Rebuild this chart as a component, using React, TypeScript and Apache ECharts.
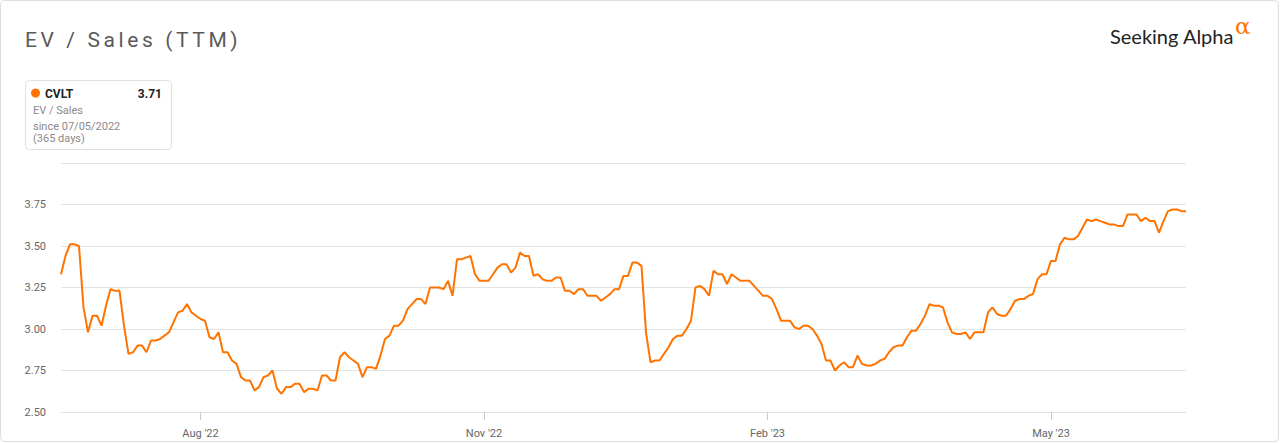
import React, { useEffect, useRef } from "react";
import * as echarts from "echarts";

const TITLE = "EV / Sales (TTM)";
const TICKER = "CVLT";
const LAST_VALUE = "3.71";
const LEGEND_LINES = ["EV / Sales", "since 07/05/2022", "(365 days)"];

// EV / Sales (TTM), one value per trading day
const values: number[] = [
  3.33, 3.44, 3.51, 3.51, 3.5, 3.13, 2.98, 3.08, 3.08, 3.02,
  3.14, 3.24, 3.23, 3.23, 3.02, 2.85, 2.86, 2.9, 2.9, 2.86,
  2.93, 2.93, 2.94, 2.96, 2.98, 3.04, 3.1, 3.11, 3.15, 3.1,
  3.08, 3.06, 3.05, 2.95, 2.94, 2.98, 2.86, 2.86, 2.81, 2.79,
  2.71, 2.69, 2.69, 2.63, 2.65, 2.71, 2.72, 2.75, 2.64, 2.61,
  2.65, 2.65, 2.67, 2.67, 2.62, 2.64, 2.64, 2.63, 2.72, 2.72,
  2.69, 2.69, 2.83, 2.86, 2.83, 2.81, 2.79, 2.71, 2.77, 2.77,
  2.76, 2.84, 2.94, 2.96, 3.02, 3.02, 3.05, 3.12, 3.15, 3.18,
  3.18, 3.15, 3.25, 3.25, 3.25, 3.24, 3.29, 3.2, 3.42, 3.42,
  3.43, 3.44, 3.33, 3.29, 3.29, 3.29, 3.33, 3.37, 3.39, 3.39,
  3.34, 3.37, 3.46, 3.44, 3.44, 3.32, 3.33, 3.3, 3.29, 3.29,
  3.31, 3.31, 3.23, 3.23, 3.21, 3.24, 3.24, 3.2, 3.2, 3.2,
  3.17, 3.19, 3.21, 3.24, 3.24, 3.32, 3.32, 3.4, 3.4, 3.38,
  2.98, 2.8, 2.81, 2.81, 2.85, 2.89, 2.94, 2.96, 2.96, 3.0,
  3.05, 3.25, 3.26, 3.24, 3.2, 3.35, 3.33, 3.33, 3.27, 3.33,
  3.31, 3.29, 3.29, 3.29, 3.26, 3.23, 3.2, 3.2, 3.18, 3.12,
  3.05, 3.05, 3.05, 3.01, 3.0, 3.02, 3.02, 3.0, 2.96, 2.91,
  2.81, 2.81, 2.75, 2.78, 2.8, 2.77, 2.77, 2.84, 2.79, 2.78,
  2.78, 2.79, 2.81, 2.82, 2.86, 2.89, 2.9, 2.9, 2.95, 2.99,
  2.99, 3.03, 3.08, 3.15, 3.14, 3.14, 3.13, 3.04, 2.98, 2.97,
  2.97, 2.98, 2.94, 2.98, 2.98, 2.98, 3.1, 3.13, 3.09, 3.08,
  3.08, 3.12, 3.17, 3.18, 3.18, 3.2, 3.21, 3.3, 3.33, 3.33,
  3.41, 3.41, 3.51, 3.55, 3.54, 3.54, 3.56, 3.61, 3.66, 3.65,
  3.66, 3.65, 3.64, 3.63, 3.63, 3.62, 3.62, 3.69, 3.69, 3.69,
  3.65, 3.67, 3.65, 3.65, 3.58, 3.65, 3.71, 3.72, 3.72, 3.71, 3.71,
];

// x-axis tick labels and the trading-day index where each sits
const tickLabels = ["Aug '22", "Nov '22", "Feb '23", "May '23"];
const tickIndices = [31, 94, 157, 220];

const categories = values.map((_, i) => String(i));

export default function App() {
  const ref = useRef<HTMLDivElement>(null);

  useEffect(() => {
    if (!ref.current) return;
    document.body.style.margin = "0";
    const chart = echarts.init(ref.current, undefined, { renderer: "svg" });
    const font = "Roboto, 'Noto Sans', sans-serif";
    const isTick = (idx: number) => tickIndices.indexOf(idx) >= 0;

    chart.setOption({
      animation: false,
      backgroundColor: "#ffffff",
      grid: { left: 61, right: 94, top: 163, bottom: 31, containLabel: false },
      xAxis: {
        type: "category",
        data: categories,
        boundaryGap: false,
        axisLine: { show: true, lineStyle: { color: "#e2e2e2", width: 1 } },
        axisTick: {
          show: true,
          interval: (idx: number) => isTick(idx),
          length: 8,
          lineStyle: { color: "#cccccc" },
        },
        axisLabel: {
          interval: (idx: number) => isTick(idx),
          formatter: (_v: string, idx: number) => {
            const k = tickIndices.indexOf(idx);
            return k >= 0 ? tickLabels[k] : "";
          },
          color: "#666666",
          fontSize: 11,
          fontFamily: font,
          margin: 16,
        },
        splitLine: { show: false },
      },
      yAxis: {
        type: "value",
        min: 2.5,
        max: 4.0,
        interval: 0.25,
        axisLine: { show: false },
        axisTick: { show: false },
        axisLabel: {
          showMaxLabel: false,
          formatter: (v: number) => v.toFixed(2),
          color: "#666666",
          fontSize: 11,
          fontFamily: font,
          margin: 15,
        },
        splitLine: { show: true, lineStyle: { color: "#e3e3e3", width: 1 } },
      },
      series: [
        {
          type: "line",
          data: values,
          showSymbol: false,
          symbol: "none",
          lineStyle: { color: "#ff7300", width: 2 },
          itemStyle: { color: "#ff7300" },
        },
      ],
      graphic: [
        {
          type: "rect",
          shape: { x: 0.5, y: 0.5, width: 1278, height: 441, r: 4 },
          style: { fill: "none", stroke: "#dedede", lineWidth: 1 },
          silent: true,
        },
        {
          type: "text",
          style: {
            x: 25,
            y: 39.5,
            text: TITLE,
            fill: "#5a5a5a",
            font: `21px ${font}`,
            textVerticalAlign: "middle",
          },
        },
        {
          type: "text",
          style: {
            x: 1110,
            y: 36,
            text: "Seeking Alpha",
            fill: "#222222",
            font: "20px Lato, 'Open Sans', sans-serif",
            textVerticalAlign: "middle",
          },
        },
        {
          type: "text",
          style: {
            x: 1235,
            y: 26,
            text: "α",
            fill: "#ff7300",
            font: "23px 'DejaVu Serif', serif",
            textVerticalAlign: "middle",
          },
        },
        {
          type: "rect",
          shape: { x: 25.5, y: 80.5, width: 146, height: 69, r: 4 },
          style: { fill: "#ffffff", stroke: "#e0e0e0", lineWidth: 1 },
        },
        {
          type: "circle",
          shape: { cx: 35.5, cy: 93, r: 4.5 },
          style: { fill: "#ff7300" },
        },
        {
          type: "text",
          style: {
            x: 45,
            y: 94,
            text: TICKER,
            fill: "#222222",
            font: `bold 12px ${font}`,
            textVerticalAlign: "middle",
          },
        },
        {
          type: "text",
          style: {
            x: 162,
            y: 94,
            text: LAST_VALUE,
            fill: "#222222",
            font: `bold 12px ${font}`,
            textAlign: "right",
            textVerticalAlign: "middle",
          },
        },
        ...LEGEND_LINES.map((t, i) => ({
          type: "text",
          style: {
            x: 33,
            y: [110.5, 126.5, 138.5][i],
            text: t,
            fill: "#8a8a8a",
            font: `11px ${font}`,
            textVerticalAlign: "middle",
          },
        })),
      ],
    });

    const spaceTitle = () => {
      const el = ref.current;
      if (!el) return;
      el.querySelectorAll("text").forEach((t) => {
        if (t.textContent === TITLE) t.setAttribute("letter-spacing", "3.6");
      });
    };
    spaceTitle();
    const timer = setTimeout(spaceTitle, 50);

    return () => {
      clearTimeout(timer);
      chart.dispose();
    };
  }, []);

  return (
    <div
      ref={ref}
      style={{ position: "absolute", left: 0, top: 0, width: 1280, height: 443 }}
    />
  );
}
